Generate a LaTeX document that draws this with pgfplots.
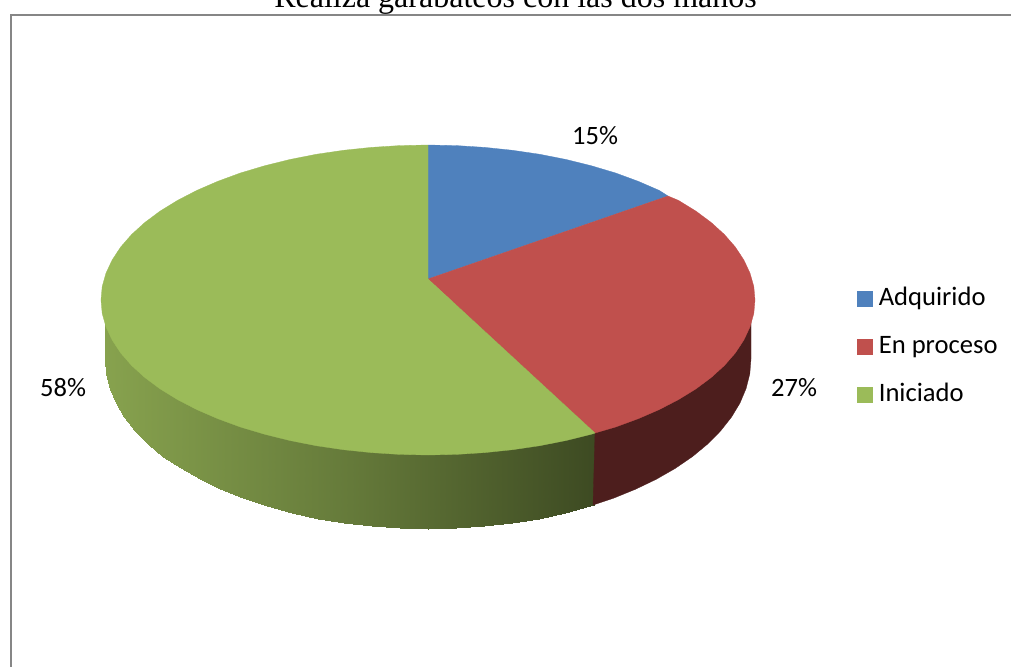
\documentclass[border=0pt]{standalone}
\usepackage{fontspec}
\setmainfont{Carlito}
\newfontfamily\titlefont{Liberation Serif}
\usepackage{pgfplots}
\pgfplotsset{compat=1.18}

\definecolor{cblue}{HTML}{4F81BD}
\definecolor{cred}{HTML}{C0504D}
\definecolor{cgreen}{HTML}{9BBB59}
\definecolor{credside}{RGB}{77,30,29}
\definecolor{frame}{RGB}{134,134,134}

\begin{document}
\begin{tikzpicture}
\path[use as bounding box,clip] (0,0) rectangle (1011pt,666pt);
\begin{axis}[
  at={(0,0)}, anchor=south west,
  scale only axis, width=1011pt, height=666pt,
  xmin=0, xmax=1011, ymin=0, ymax=666,
  y dir=reverse,
  hide axis,
  clip=false,
  colormap={sidegreen}{rgb255=(135,162,78) rgb255=(101,122,58) rgb255=(61,74,34)},
  legend image code/.code={\fill[#1] (0pt,-7.5pt) rectangle (15pt,7.5pt);},
  legend style={
    at={(axis cs:857,287)}, anchor=north west,
    draw=none, fill=none, inner sep=0pt, outer sep=0pt,
    font=\fontsize{26.6}{30}\selectfont,
    row sep=24pt,
    nodes={inner sep=0pt, text height=18pt, text depth=6pt, anchor=west},
    /tikz/every odd column/.append style={column sep=6.5pt},
  },
]
% side of the green slice, shaded from left to right
\addplot[surf, shader=interp, mesh/ordering=y varies, mesh/rows=2, point meta=x,
  point meta min=105, point meta max=596, forget plot] table {
x y
105 300
105 359
106.2 300
106.2 373.8
109.9 300
109.9 388.5
116 300
116 403
124.5 300
124.5 417.1
135.3 300
135.3 430.8
148.3 300
148.3 444
163.4 300
163.4 456.5
180.6 300
180.6 468.3
199.6 300
199.6 479.2
220.4 300
220.4 489.2
242.7 300
242.7 498.3
266.5 300
266.5 506.2
291.5 300
291.5 513.1
317.5 300
317.5 518.7
344.4 300
344.4 523.2
371.9 300
371.9 526.4
399.8 300
399.8 528.4
428 300
428 529
456.2 300
456.2 528.4
484.1 300
484.1 526.4
511.6 300
511.6 523.2
538.5 300
538.5 518.7
564.5 300
564.5 513.1
589.5 300
589.5 506.2
596 300
593.5 505
};
% side of the red slice
\addplot[fill=credside, draw=credside, line width=0.3pt, mark=none, forget plot] coordinates {
(595,433) (595,300) (751,300) (751,359) (749.8,373.8) (746.1,388.5) (740,403) (731.5,417.1)
(720.7,430.8) (707.7,444) (692.6,456.5) (675.4,468.3) (656.4,479.2) (635.6,489.2) (613.3,498.3) (593,505)
} --cycle;
% top faces: Adquirido 15%, En proceso 27%, Iniciado 58%
\addplot[fill=cblue, draw=cblue, line width=0.3pt, mark=none] coordinates {
(428,279) (428,145) (456.5,145.6) (484.8,147.4) (512.6,150.3) (539.8,154.3) (566.2,159.5)
(591.5,165.8) (615.6,173) (638.2,181.3) (659.2,190.4) (668,196)
} --cycle;
\addlegendentry{Adquirido}
\addplot[fill=cred, draw=cred, line width=0.3pt, mark=none] coordinates {
(428,279) (668,196) (678.5,200.4) (695.9,211.1) (711.2,222.5) (724.4,234.5) (735.3,247) (743.8,259.9)
(750,273.1) (753.8,286.5) (755,300) (753.8,313.5) (750,326.9) (743.8,340.1) (735.3,353) (724.4,365.5)
(711.2,377.5) (695.9,388.9) (678.5,399.6) (659.2,409.6) (638.2,418.7) (615.6,427) (595,433)
} --cycle;
\addlegendentry{En proceso}
\addplot[fill=cgreen, draw=cgreen, line width=0.3pt, mark=none] coordinates {
(428,279) (595,433) (591.5,434.2) (566.2,440.5) (539.8,445.7) (512.6,449.7) (484.8,452.6) (456.5,454.4)
(428,455) (399.5,454.4) (371.2,452.6) (343.4,449.7) (316.2,445.7) (289.8,440.5) (264.5,434.2) (240.4,427)
(217.8,418.7) (196.8,409.6) (177.5,399.6) (160.1,388.9) (144.8,377.5) (131.6,365.5) (120.7,353) (112.2,340.1)
(106,326.9) (102.2,313.5) (101,300) (102.2,286.5) (106,273.1) (112.2,259.9) (120.7,247) (131.6,234.5)
(144.8,222.5) (160.1,211.1) (177.5,200.4) (196.8,190.4) (217.8,181.3) (240.4,173) (264.5,165.8) (289.8,159.5)
(316.2,154.3) (343.4,150.3) (371.2,147.4) (399.5,145.6) (428,145)
} --cycle;
\addlegendentry{Iniciado}
% frame of the chart, cut off by the page at right and at the bottom
\draw[frame, line width=2pt] (axis cs:10.5,690) -- (axis cs:10.5,15) -- (axis cs:1030,15);
\node[anchor=base, inner sep=0pt, font=\titlefont\fontsize{32}{36}\selectfont] at (axis cs:515.5,8) {Realiza garabateos con las dos manos};
\node[anchor=base west, inner sep=0pt, font=\fontsize{26.5}{30}\selectfont] at (axis cs:572,144) {15\%};
\node[anchor=base west, inner sep=0pt, font=\fontsize{26.5}{30}\selectfont] at (axis cs:771,396) {27\%};
\node[anchor=base west, inner sep=0pt, font=\fontsize{26.5}{30}\selectfont] at (axis cs:40,396) {58\%};
\end{axis}
\end{tikzpicture}
\end{document}
